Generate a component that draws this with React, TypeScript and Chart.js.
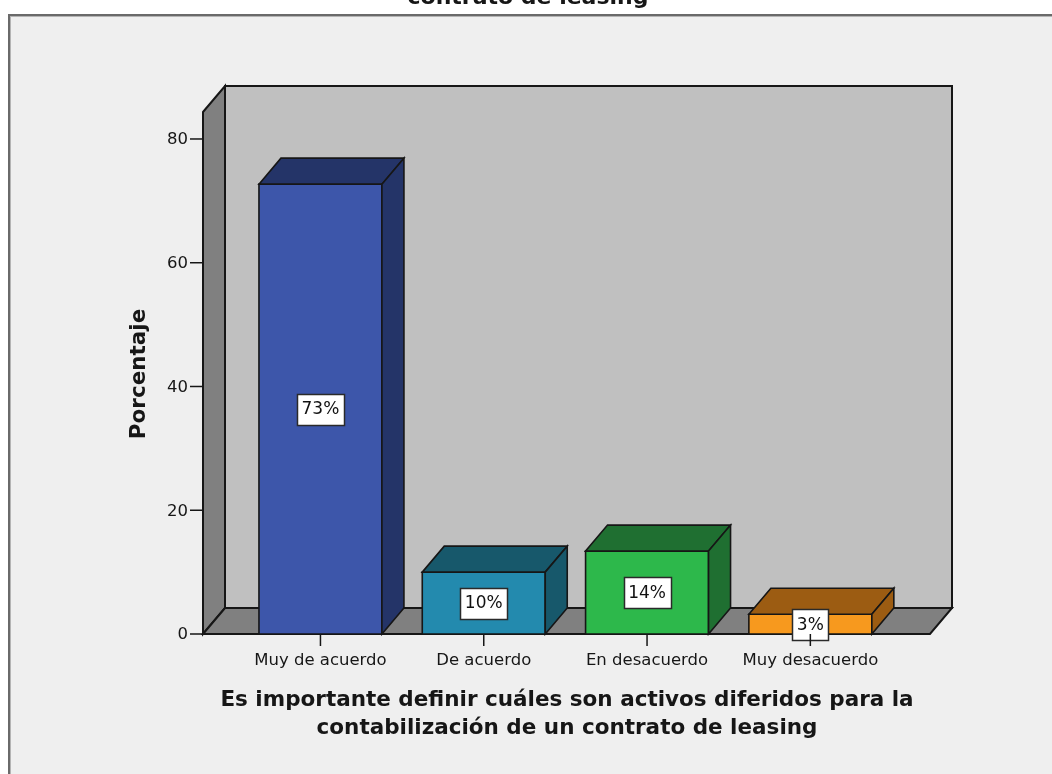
import React, { useEffect, useRef } from "react";
import { Chart, registerables } from "chart.js";

Chart.register(...registerables);

// ---- data ----
const categories = ["Muy de acuerdo", "De acuerdo", "En desacuerdo", "Muy desacuerdo"];
const percentages = [72.7, 10, 13.4, 3.2];
const valueLabels = ["73%", "10%", "14%", "3%"];
const yTicks = [0, 20, 40, 60, 80];
const frontColors = ["#3d56aa", "#238aae", "#2db84b", "#f7991e"];
const darkColors = ["#243468", "#17586b", "#1f6f31", "#9c5c12"];
const titleText = "contrato de leasing";
const yTitle = "Porcentaje";
const xTitleLines = [
  "Es importante definir cuáles son activos diferidos para la",
  "contabilización de un contrato de leasing",
];

const W = 1052;
const H = 774;
const DX = 22;
const DY = -26;
const FONT = '"DejaVu Sans", sans-serif';
const FRONT_LEFT = 203;
const FRONT_RIGHT = 930;
const LINE = "#161616";

function poly(ctx: CanvasRenderingContext2D, pts: number[][], fill: string, stroke: string, lw: number) {
  ctx.beginPath();
  ctx.moveTo(pts[0][0], pts[0][1]);
  for (let i = 1; i < pts.length; i++) ctx.lineTo(pts[i][0], pts[i][1]);
  ctx.closePath();
  ctx.fillStyle = fill;
  ctx.fill();
  ctx.strokeStyle = stroke;
  ctx.lineWidth = lw;
  ctx.lineJoin = "miter";
  ctx.stroke();
}

const spss3d = {
  id: "spss3d",
  beforeDraw(chart: any) {
    const { ctx, scales } = chart;
    const ys = scales.y;
    const y0 = ys.getPixelForValue(0);
    const yTop = ys.getPixelForValue(ys.max);
    const l = FRONT_LEFT;
    const r = FRONT_RIGHT;
    ctx.save();
    ctx.fillStyle = "#ffffff";
    ctx.fillRect(0, 0, W, H);
    ctx.fillStyle = "#efefef";
    ctx.fillRect(9, 15, W, H);
    ctx.strokeStyle = "#6a6a6a";
    ctx.lineWidth = 2;
    ctx.strokeRect(9, 15, W + 40, H + 40);
    ctx.strokeStyle = "#b4b4b4";
    ctx.lineWidth = 1;
    ctx.strokeRect(10.5, 16.5, W + 40, H + 40);

    // back wall
    poly(ctx, [[l + DX, yTop + DY], [r + DX, yTop + DY], [r + DX, y0 + DY], [l + DX, y0 + DY]], "#c0c0c0", LINE, 2);
    // left wall
    poly(ctx, [[l, yTop], [l + DX, yTop + DY], [l + DX, y0 + DY], [l, y0]], "#808080", LINE, 2);
    // floor
    poly(ctx, [[l, y0], [l + DX, y0 + DY], [r + DX, y0 + DY], [r, y0]], "#808080", LINE, 2);
    ctx.restore();
  },
  afterDatasetsDraw(chart: any) {
    const { ctx } = chart;
    const meta = chart.getDatasetMeta(0);
    ctx.save();
    meta.data.forEach((el: any, i: number) => {
      const p = el.getProps(["x", "y", "width", "base"], true);
      const lx = p.x - p.width / 2;
      const rx = p.x + p.width / 2;
      const top = p.y;
      const base = p.base;
      // front face outline
      poly(ctx, [[lx, top], [rx, top], [rx, base], [lx, base]], frontColors[i], LINE, 1.6);
      // top face
      poly(ctx, [[lx, top], [lx + DX, top + DY], [rx + DX, top + DY], [rx, top]], darkColors[i], LINE, 1.6);
      // side face
      poly(ctx, [[rx, top], [rx + DX, top + DY], [rx + DX, base + DY], [rx, base]], darkColors[i], LINE, 1.6);
    });
    // value labels
    ctx.font = `17px ${FONT}`;
    ctx.textAlign = "center";
    ctx.textBaseline = "middle";
    meta.data.forEach((el: any, i: number) => {
      const p = el.getProps(["x", "y", "base"], true);
      const cy = (p.y + p.base) / 2;
      const tw = ctx.measureText(valueLabels[i]).width;
      const bw = Math.round(tw + 9);
      const bh = 31;
      const bx = Math.round(p.x - bw / 2) + 0.5;
      const by = Math.round(cy - bh / 2) + 0.5;
      ctx.fillStyle = "#ffffff";
      ctx.fillRect(bx, by, bw, bh);
      ctx.strokeStyle = "#2a2a2a";
      ctx.lineWidth = 1.5;
      ctx.strokeRect(bx, by, bw, bh);
      ctx.fillStyle = "#111111";
      ctx.fillText(valueLabels[i], p.x, cy + 1);
    });
    ctx.restore();
  },
  afterDraw(chart: any) {
    const { ctx, scales } = chart;
    const ys = scales.y;
    const xs = scales.x;
    const y0 = ys.getPixelForValue(0);
    ctx.save();
    ctx.strokeStyle = LINE;
    ctx.lineWidth = 1.5;
    ctx.fillStyle = "#161616";
    // y ticks
    ctx.font = `16.5px ${FONT}`;
    ctx.textAlign = "right";
    ctx.textBaseline = "middle";
    yTicks.forEach((v) => {
      const py = ys.getPixelForValue(v);
      ctx.beginPath();
      ctx.moveTo(190, py);
      ctx.lineTo(FRONT_LEFT, py);
      ctx.stroke();
      ctx.fillText(String(v), 188, py + 1);
    });
    // x ticks
    ctx.textAlign = "center";
    categories.forEach((c, i) => {
      const px = xs.getPixelForValue(i);
      ctx.beginPath();
      ctx.moveTo(px, y0);
      ctx.lineTo(px, y0 + 12);
      ctx.stroke();
      ctx.fillText(c, px, 661);
    });
    // y title
    ctx.font = `bold 21.5px ${FONT}`;
    ctx.save();
    ctx.translate(139, 374);
    ctx.rotate(-Math.PI / 2);
    ctx.textAlign = "center";
    ctx.textBaseline = "middle";
    ctx.fillText(yTitle, 0, 0);
    ctx.restore();
    // x title
    ctx.textAlign = "center";
    ctx.textBaseline = "alphabetic";
    ctx.fillText(xTitleLines[0], 567, 706);
    ctx.fillText(xTitleLines[1], 567, 734);
    // top title (cut off by the top edge)
    ctx.font = `bold 22px ${FONT}`;
    ctx.fillText(titleText, 528, 4);
    ctx.restore();
  },
};

export default function App() {
  const ref = useRef<HTMLCanvasElement | null>(null);
  useEffect(() => {
    if (!ref.current) return;
    const chart = new Chart(ref.current, {
      type: "bar",
      data: {
        labels: categories,
        datasets: [
          {
            data: percentages,
            backgroundColor: frontColors,
            borderWidth: 0,
            barPercentage: 0.753,
            categoryPercentage: 1,
          },
        ],
      },
      options: {
        animation: false,
        responsive: false,
        devicePixelRatio: 1,
        layout: { padding: { left: 238.8, right: W - 892, top: 112, bottom: H - 634 } },
        scales: {
          x: { display: false, offset: true },
          y: { display: false, min: 0, max: 84.36 },
        },
        plugins: {
          legend: { display: false },
          tooltip: { enabled: false },
          title: { display: false },
        },
      },
      plugins: [spss3d],
    });
    return () => chart.destroy();
  }, []);
  return (
    <div style={{ position: "fixed", left: 0, top: 0, width: W, height: H, background: "#fff" }}>
      <canvas ref={ref} width={W} height={H} style={{ display: "block" }} />
    </div>
  );
}
